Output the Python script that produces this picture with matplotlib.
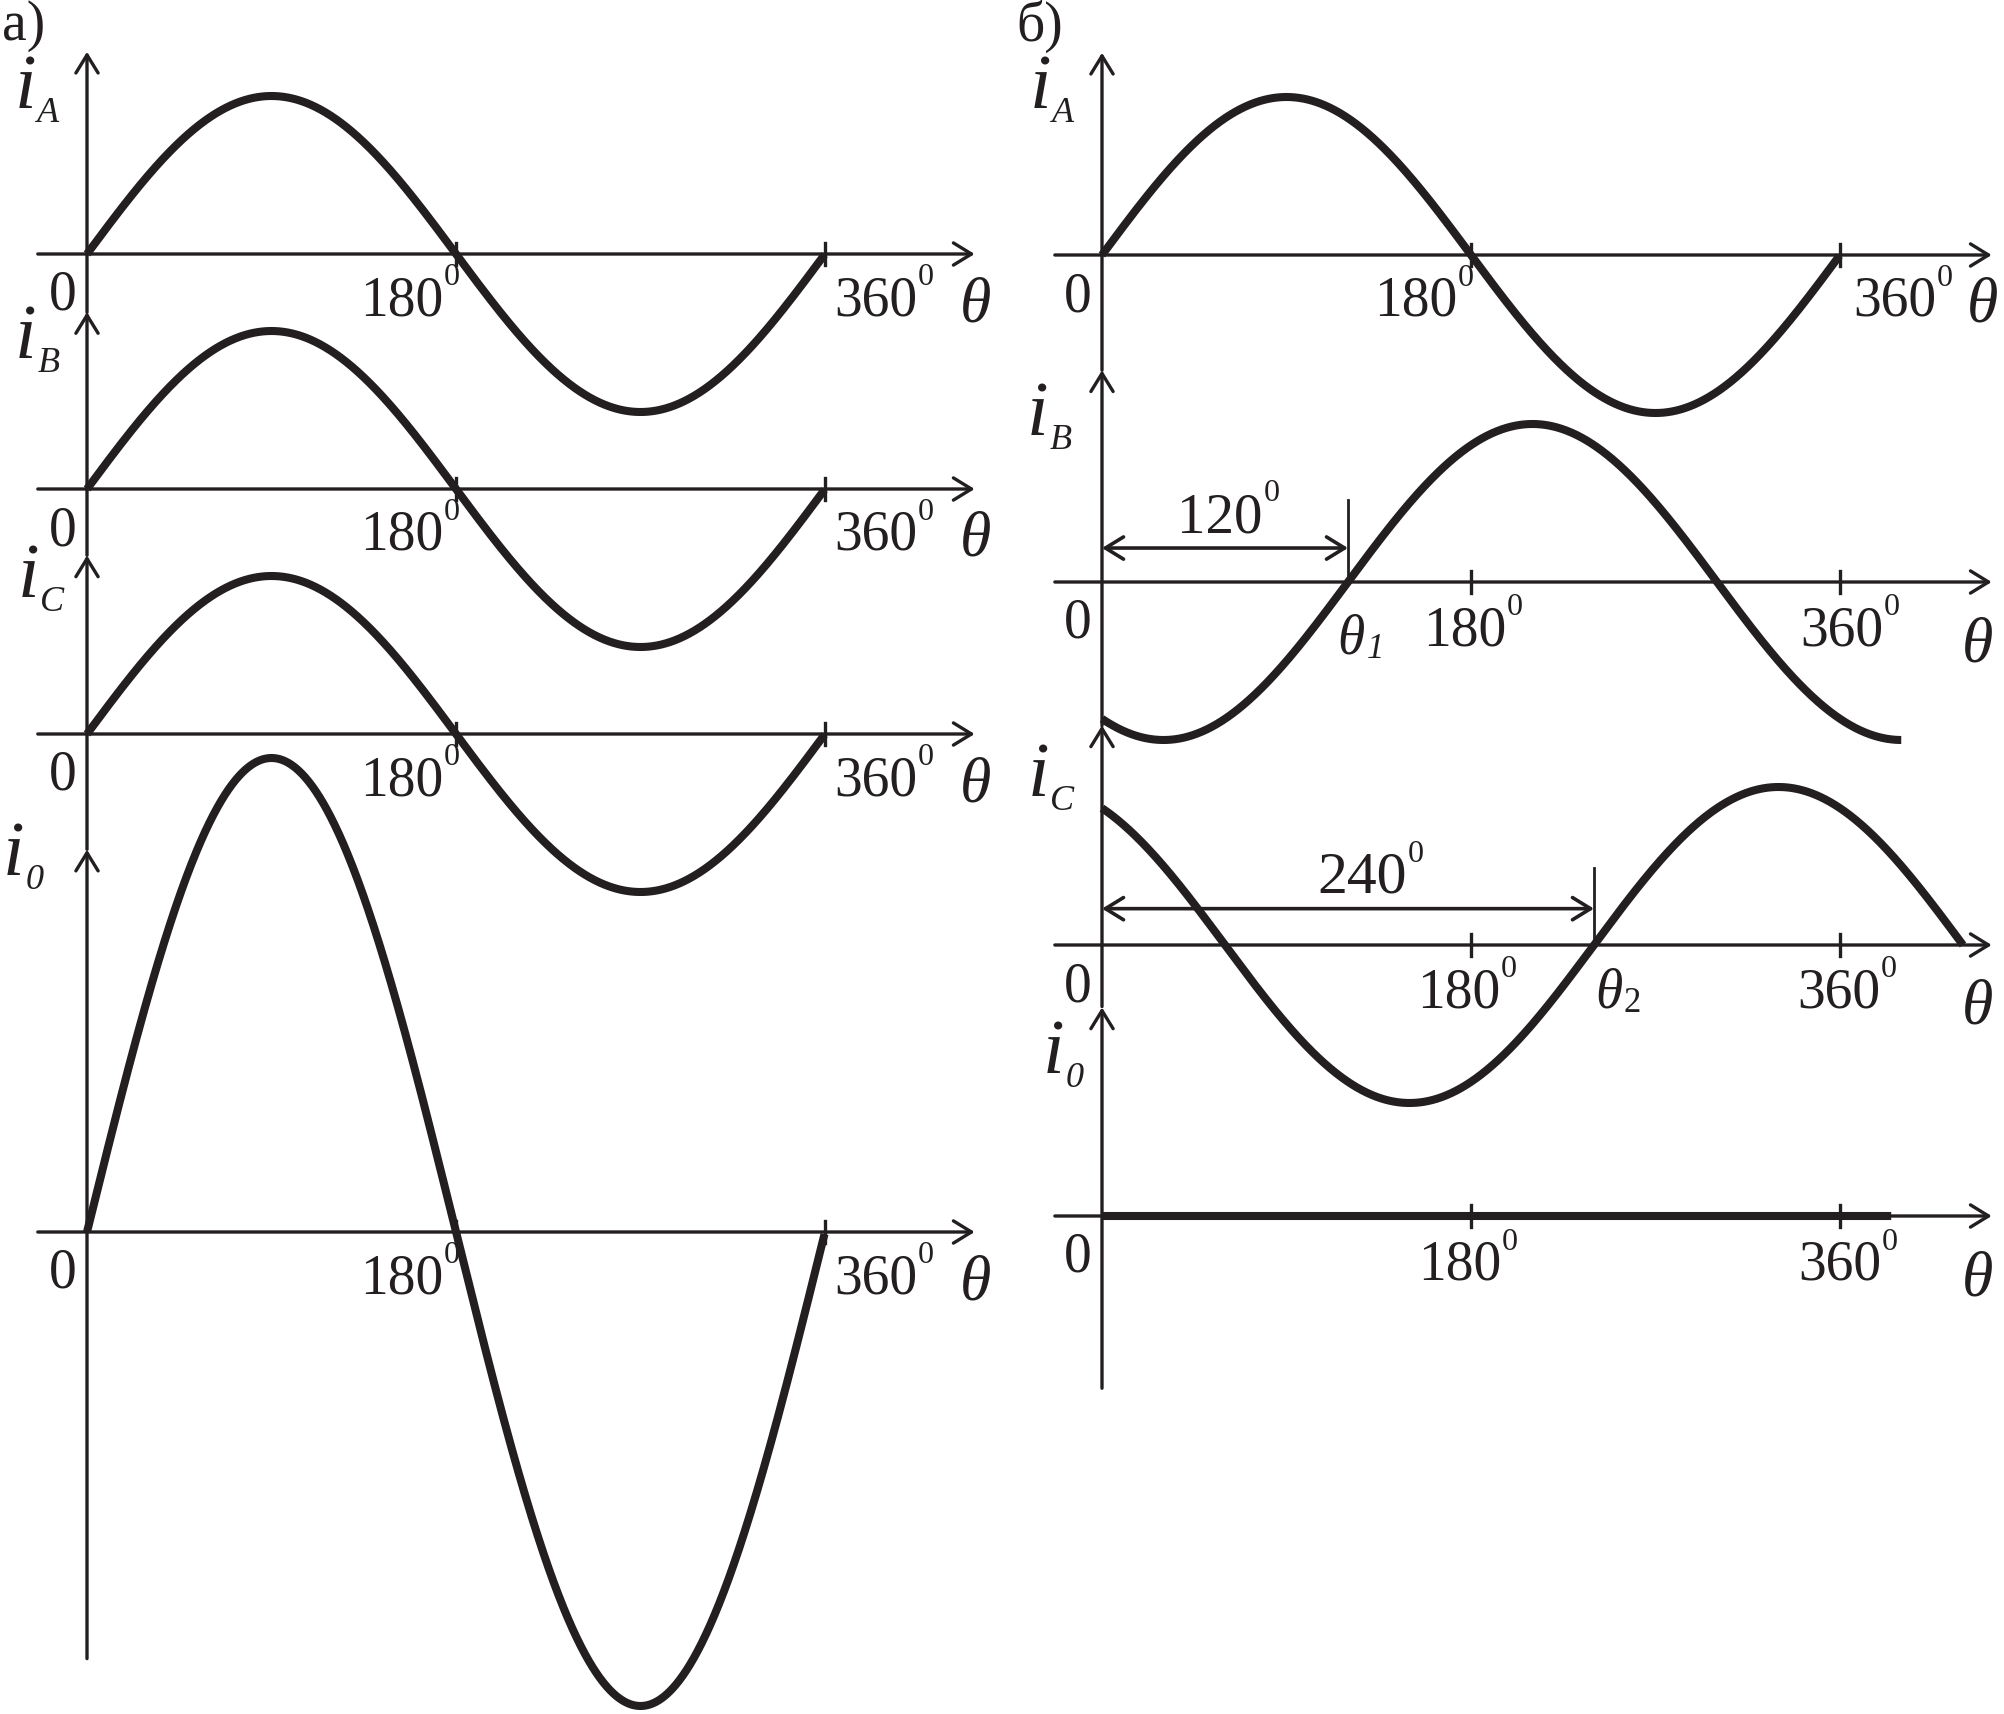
import numpy as np
import matplotlib

matplotlib.use('Agg')
import matplotlib.pyplot as plt

# ---- data ----------------------------------------------------------------
names = ['A', 'B', 'C', '0']
amp_left = [1, 1, 1, 3]
phase_left = [0, 0, 0, 0]
end_left = [360, 360, 360, 360]

amp_right = [1, 1, 1, 0]
phase_right = [0, -120, -240, 0]
end_right = [360, 390, 420, 385]

tick_degs = [180, 360]
tick_text = ['180', '360']
shift_labels = [120, 240]

# ---- layout (pixels of the 2004x1714 picture) -----------------------------
W, H = 2004, 1714
PX_DEG = 2.05
PX_UNIT = 158
left_x0, right_x0 = 87, 1102
left_axis_y = [254, 489, 734, 1232]
right_axis_y = [255, 582, 945, 1216]
left_tip = [1.28, 1.12, 1.13, 2.42]
left_low = [-0.37, -0.42, -0.73, -2.70]
right_tip = [1.28, 1.34, 1.39, 1.32]
right_low = [-0.73, -0.91, -0.39, -1.09]

INK = '#231f20'
SERIF = 'Liberation Serif'
CURVE_LW = 5.8
AX_LW = 2.4
ARROW = '->,head_length=1.3,head_width=0.8'
DARROW = '<->,head_length=1.3,head_width=0.8'

fig = plt.figure(figsize=(W / 100, H / 100), dpi=100)
fig.patch.set_facecolor('white')


def panel(x0, y_axis):
    ax = fig.add_axes([x0 / W, 1 - (y_axis + PX_UNIT) / H, 360 * PX_DEG / W, 2 * PX_UNIT / H])
    ax.set_xlim(0, 360)
    ax.set_ylim(-1, 1)
    ax.axis('off')
    return ax


def put(ax, s, x, y, dx, dy, size, ha='left', style='normal'):
    # dx, dy: pixel offsets (dy positive downward)
    return ax.annotate(s, xy=(x, y), xytext=(dx * 0.72, -dy * 0.72), textcoords='offset points',
                       ha=ha, va='baseline', fontsize=size, fontstyle=style, family=SERIF,
                       color=INK, annotation_clip=False)


def attach(ax, main, s, up, size, style='normal', dx=0.5):
    return ax.annotate(s, xy=(1, 0), xycoords=main, xytext=(dx, up), textcoords='offset points',
                       ha='left', va='baseline', fontsize=size, fontstyle=style, family=SERIF,
                       color=INK, annotation_clip=False)


def arrow(ax, p0, p1, style=ARROW, lw=AX_LW):
    ax.annotate('', xy=p1, xytext=p0, annotation_clip=False,
                arrowprops=dict(arrowstyle=style, lw=lw, color=INK, shrinkA=0, shrinkB=0))


def frame(ax, name, tip, low, x_start, x_end, name_dx, name_dy):
    arrow(ax, (0, low), (0, tip))
    arrow(ax, (x_start, 0), (x_end, 0))
    for d in tick_degs:
        ax.plot([d, d], [-0.07, 0.07], color=INK, lw=AX_LW, clip_on=False)
    i = put(ax, 'i', 0, 0, name_dx, -name_dy, 56, style='italic')
    attach(ax, i, name, 2.5, 26, style='italic', dx=0.5)
    put(ax, '0', 0, 0, -10, 56, 40, ha='right')


def deg_labels(ax, specs, base, theta_deg, theta_base):
    for d, txt, (ha, dx) in zip(tick_degs, tick_text, specs):
        t = put(ax, txt, d, 0, dx, base, 40, ha=ha)
        attach(ax, t, '0', 30, 23)
    put(ax, 'θ', theta_deg, 0, 0, theta_base, 46, style='italic')


theta = np.linspace(0, 420, 1200)

# ---- a) left column ------------------------------------------------------
left_name_pos = [(-72, 146), (-72, 131), (-69, 137), (-84, 357)]
for k in range(4):
    ax = panel(left_x0, left_axis_y[k])
    frame(ax, names[k], left_tip[k], left_low[k], -24, 433, *left_name_pos[k])
    deg_labels(ax, [('right', -13), ('left', 9)], 61, 426, 67)
    th = theta[theta <= end_left[k]]
    ax.plot(th, amp_left[k] * np.sin(np.radians(th + phase_left[k])), color=INK, lw=CURVE_LW,
            solid_capstyle='butt', clip_on=False)

# ---- б) right column -----------------------------------------------------
right_name_pos = [(-72, 147), (-75, 147), (-74, 149), (-59, 143)]
right_specs = [[('right', -14), ('left', 13)], [('right', 35), ('right', 43)],
               [('right', 29), ('right', 40)], [('right', 30), ('right', 41)]]
right_base = [61, 63, 62, 64]
right_theta = [(422, 67), (419.5, 80), (419.5, 78), (419.5, 79)]
right_axes = []
for k in range(4):
    ax = panel(right_x0, right_axis_y[k])
    right_axes.append(ax)
    frame(ax, names[k], right_tip[k], right_low[k], -23, 434, *right_name_pos[k])
    deg_labels(ax, right_specs[k], right_base[k], *right_theta[k])
    th = theta[theta <= end_right[k]]
    ax.plot(th, amp_right[k] * np.sin(np.radians(th + phase_right[k])), color=INK, lw=CURVE_LW,
            solid_capstyle='butt', clip_on=False)

# phase shift marks
shift_geom = [(0.52, 0.215, 57.6, 0.316, 41), (0.49, 0.23, 127, 0.335, 43)]
theta_marks = [('1', 'italic', 115, 71, 40), ('2', 'normal', 240.5, 62, 40)]
for ax, deg, (top, ay, tx, ty, fs), (sub, sstyle, thx, thb, tfs) in zip(
        right_axes[1:3], shift_labels, shift_geom, theta_marks):
    ax.plot([deg, deg], [0, top], color=INK, lw=2.0, clip_on=False)
    arrow(ax, (0, ay), (deg, ay), style=DARROW, lw=2.6)
    t = ax.text(tx, ty, str(deg), ha='center', va='baseline', fontsize=fs, family=SERIF, color=INK)
    attach(ax, t, '0', 31, 23)
    th_t = put(ax, 'θ', thx, 0, 0, thb, tfs, style='italic')
    attach(ax, th_t, sub, 5, 25, style=sstyle, dx=1)

fig.text(2 / W, 1.0, 'а)', ha='left', va='top', fontsize=40, family=SERIF, color=INK)
fig.text(1016 / W, 1.0, 'б)', ha='left', va='top', fontsize=40, family=SERIF, color=INK)

fig.savefig('out.png', dpi=100, facecolor='white')
